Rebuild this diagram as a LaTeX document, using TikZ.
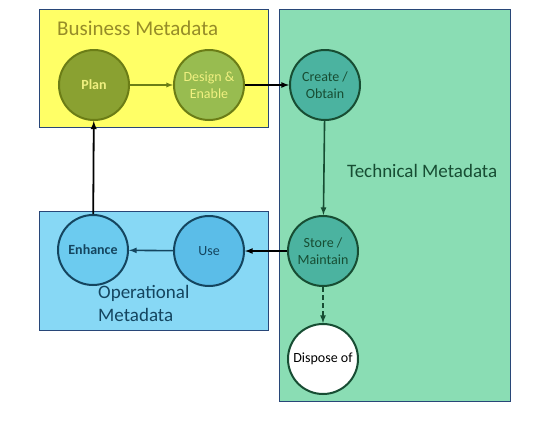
\documentclass[tikz,border=0pt]{standalone}
\usepackage{fontspec}
\setmainfont{Carlito}
\usepackage{tikz}
\usetikzlibrary{arrows}

\definecolor{bizbox}{RGB}{255,255,102}
\definecolor{techbox}{RGB}{138,221,180}
\definecolor{opbox}{RGB}{135,216,245}
\definecolor{boxline}{RGB}{40,70,120}
\definecolor{olivetext}{RGB}{150,140,40}
\definecolor{olivedark}{RGB}{107,125,22}
\definecolor{planfill}{RGB}{138,161,49}
\definecolor{designfill}{RGB}{152,188,80}
\definecolor{paleyellow}{RGB}{240,240,128}
\definecolor{tealfill}{RGB}{75,179,160}
\definecolor{greendark}{RGB}{23,77,51}
\definecolor{usefill}{RGB}{91,189,232}
\definecolor{enhfill}{RGB}{108,203,239}
\definecolor{bluedark}{RGB}{20,69,95}

\begin{document}
\begin{tikzpicture}[x=1pt,y=-1pt,
    stage/.style={circle,minimum size=70pt,inner sep=0pt,line width=2pt,
        align=center,font=\fontsize{14}{17}\selectfont},
    title/.style={font=\fontsize{19}{23}\selectfont,inner sep=0pt}]
        % Boxes
        \path [fill=white] (0,0) rectangle (544,421);
        \useasboundingbox (0,0) rectangle (544,421);
        \draw [fill=bizbox,draw=boxline,thin]  (39,9)   rectangle (268,127);
        \draw [fill=techbox,draw=boxline,thin] (279,9)  rectangle (510,401);
        \draw [fill=opbox,draw=boxline,thin]   (39,211) rectangle (268,330);

        % Titles
        \node [title,anchor=west,text=olivetext,
            font=\fontsize{21}{25}\selectfont] (biz) at (57,28) {Business Metadata};
        \node [title,anchor=west,text=greendark] (tech) at (347,171)
            {Technical Metadata};
        \node [title,anchor=north west,align=left,text=bluedark] (op)
            at (98,285) {Operational\\Metadata};

        % Stages
        \node [stage,fill=planfill,draw=olivedark,text=paleyellow,
            font=\fontsize{14}{17}\selectfont\bfseries] (plan) at (94,85) {Plan};
        \node [stage,fill=designfill,draw=olivedark,text=paleyellow] (design)
            at (209,85) {Design \&\\Enable};
        \node [stage,fill=tealfill,draw=greendark,text=greendark] (create)
            at (325,85) {Create /\\Obtain};
        \node [stage,fill=tealfill,draw=greendark,text=greendark] (store)
            at (323,251) {Store /\\Maintain};
        \node [stage,fill=white,draw=greendark,text=black] (dispose)
            at (323,359) {Dispose of};
        \node [stage,fill=usefill,draw=bluedark,text=bluedark] (use)
            at (209,251) {Use};
        \node [stage,fill=enhfill,draw=bluedark,text=bluedark,
            font=\fontsize{14}{17}\selectfont\bfseries] (enhance)
            at (93,250) {Enhance};

        % Flow
        \draw [-latex,olivedark,line width=1.3pt] (plan) -- (design);
        \draw [-latex,black,line width=1.6pt] (design) -- (create);
        \draw [-latex,greendark,line width=1.6pt] (create) -- (store);
        \draw [-latex,black,line width=1.6pt] (store) -- (use);
        \draw [-latex,bluedark,line width=1.6pt] (use) -- (enhance);
        \draw [-latex,black,line width=1.8pt] (enhance) -- (plan);
        \draw [-latex,greendark,line width=1.6pt,dash pattern=on 5pt off 3pt]
            (store) -- (dispose);
\end{tikzpicture}
\end{document}
